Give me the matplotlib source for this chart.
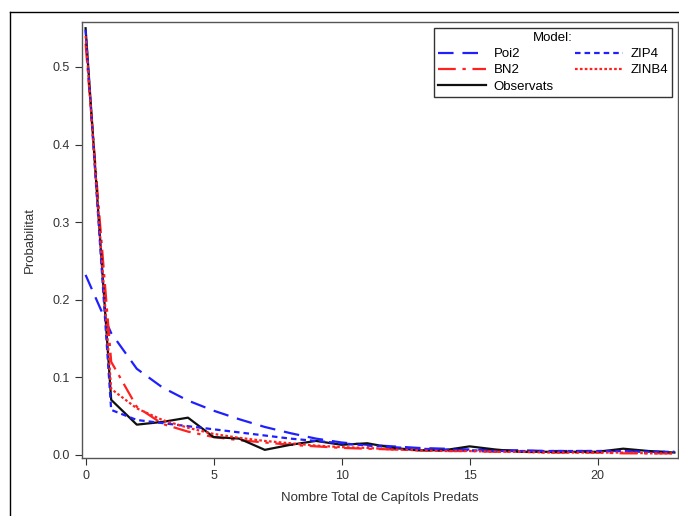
import matplotlib
matplotlib.use("Agg")
import matplotlib.pyplot as plt
from matplotlib.lines import Line2D

plt.rcParams['font.family'] = ['Liberation Sans', 'DejaVu Sans']

# x values: number of predated heads
x = list(range(24))

poi2 = [0.232, 0.157, 0.111, 0.087, 0.070, 0.057, 0.046, 0.036, 0.028, 0.021,
        0.016, 0.013, 0.011, 0.009, 0.008, 0.007, 0.006, 0.006, 0.005, 0.005,
        0.005, 0.005, 0.004, 0.004]
zip4 = [0.548, 0.058, 0.045, 0.041, 0.037, 0.033, 0.029, 0.025, 0.021, 0.018,
        0.015, 0.012, 0.010, 0.008, 0.007, 0.006, 0.005, 0.005, 0.005, 0.005,
        0.005, 0.005, 0.004, 0.004]
bn2 = [0.530, 0.120, 0.062, 0.040, 0.030, 0.023, 0.019, 0.016, 0.013, 0.011,
       0.009, 0.008, 0.007, 0.006, 0.005, 0.005, 0.004, 0.004, 0.003, 0.003,
       0.003, 0.002, 0.002, 0.002]
zinb4 = [0.540, 0.085, 0.060, 0.045, 0.035, 0.027, 0.022, 0.018, 0.015, 0.012,
         0.010, 0.009, 0.007, 0.006, 0.005, 0.005, 0.004, 0.004, 0.003, 0.003,
         0.003, 0.003, 0.002, 0.002]
observats = [0.550, 0.071, 0.039, 0.0425, 0.048, 0.023, 0.021, 0.0065, 0.013, 0.018,
             0.013, 0.015, 0.009, 0.006, 0.006, 0.011, 0.007, 0.004, 0.004, 0.004,
             0.004, 0.008, 0.005, 0.003]

fig = plt.figure(figsize=(6.79, 5.16), dpi=100)
ax = fig.add_axes([82/679, 58/516, 596/679, 436/516])

ax.plot(x, poi2, color='#2020ff', lw=1.6, dashes=(7, 4), label='Poi2')
ax.plot(x, bn2, color='#ff2020', lw=1.6, dashes=(8, 3, 1.5, 3), label='BN2')
ax.plot(x, observats, color='#101010', lw=1.6, label='Observats')
ax.plot(x, zip4, color='#2020ff', lw=1.6, dashes=(2.5, 1.8), label='ZIP4')
ax.plot(x, zinb4, color='#ff2020', lw=1.6, dashes=(1.2, 1.0), label='ZINB4')

ax.set_xlim(-0.14, 23.14)
ax.set_ylim(-0.004, 0.558)
ax.set_xticks([0, 5, 10, 15, 20])
ax.set_yticks([0.0, 0.1, 0.2, 0.3, 0.4, 0.5])
ax.set_yticklabels(['0.0', '0.1', '0.2', '0.3', '0.4', '0.5'])
ax.tick_params(labelsize=9, length=5, width=0.8, colors='#333333', labelcolor='#333333')
for s in ax.spines.values():
    s.set_color('#555555')
    s.set_linewidth(1.0)

ax.set_xlabel('Nombre Total de Capítols Predats', fontsize=9.5, color='#333333', labelpad=7)
ax.set_ylabel('Probabilitat', fontsize=9.5, color='#333333', labelpad=12)

leg = ax.legend(ncol=2, title='Model:', loc='upper right', fontsize=9.5,
                title_fontsize=9.5, frameon=True, fancybox=False,
                handlelength=3.6, handletextpad=0.6, columnspacing=1.6,
                borderpad=0.3, labelspacing=0.3, borderaxespad=0,
                bbox_to_anchor=(0.99, 0.986))
leg.get_frame().set_edgecolor('black')
leg.get_frame().set_linewidth(1.0)

# outer frame (top and left edges)
fig.add_artist(Line2D([10/679, 1.0], [1 - 12/516, 1 - 12/516], color='black', lw=1.0))
fig.add_artist(Line2D([10/679, 10/679], [0.0, 1 - 12/516], color='black', lw=1.0))

fig.savefig('out.png', dpi=100)
